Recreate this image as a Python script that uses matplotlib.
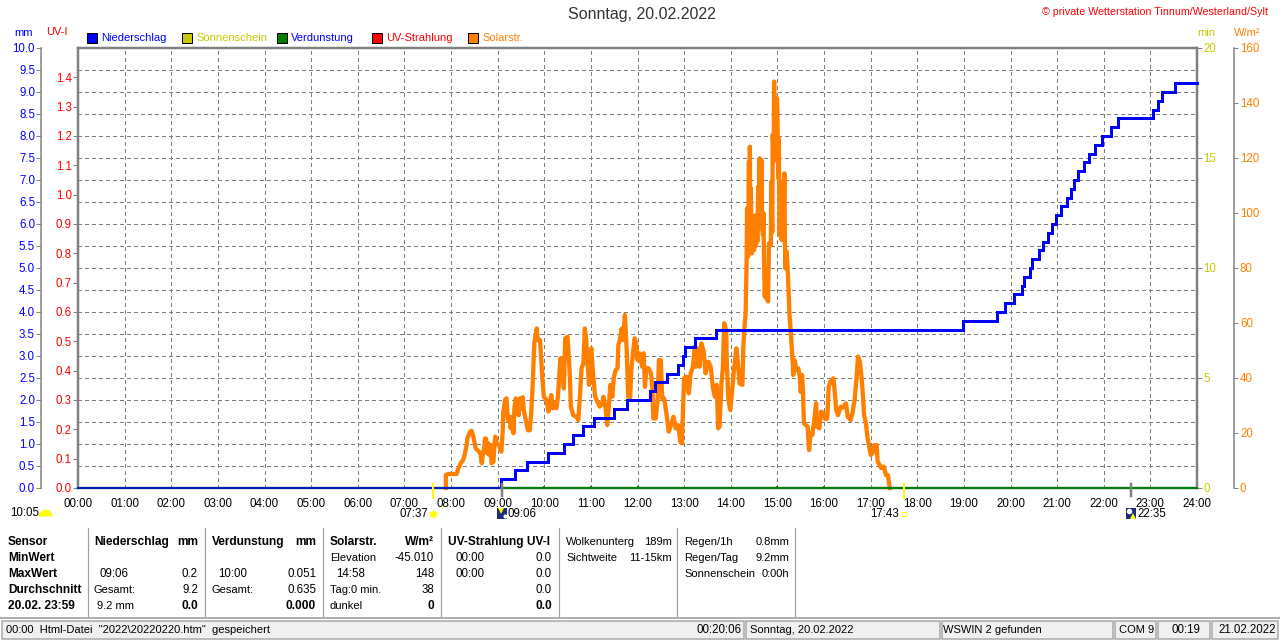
import matplotlib
matplotlib.use('Agg')
import matplotlib.pyplot as plt
from matplotlib.lines import Line2D
from matplotlib.patches import Rectangle

plt.rcParams['font.family'] = ['Liberation Sans', 'DejaVu Sans']
plt.rcParams['font.size'] = 8.0

# Regen: Zeitpunkt (h) und Tagessumme (mm)
rain_h = [0, 9.08, 9.38, 9.64, 10.09, 10.43, 10.62, 10.84, 11.07, 11.5, 11.78, 12.27, 12.37, 12.63, 12.87,
          12.97, 13.02, 13.23, 13.68, 18.99, 19.7, 19.89, 20.07, 20.24, 20.3, 20.41, 20.47, 20.62, 20.69,
          20.81, 20.9, 20.98, 21.09, 21.22, 21.29, 21.36, 21.45, 21.57, 21.68, 21.82, 21.97, 22.15, 22.31,
          23.05, 23.16, 23.26, 23.52, 24]
rain_mm = [0, 0.2, 0.4, 0.6, 0.8, 1.0, 1.2, 1.4, 1.6, 1.8, 2.0, 2.2, 2.4, 2.6, 2.8,
           3.0, 3.2, 3.4, 3.6, 3.8, 4.0, 4.2, 4.4, 4.6, 4.8, 5.0, 5.2, 5.4, 5.6,
           5.8, 6.0, 6.2, 6.4, 6.6, 6.8, 7.0, 7.2, 7.4, 7.6, 7.8, 8.0, 8.2, 8.4,
           8.6, 8.8, 9.0, 9.2, 9.2]

# Solarstrahlung
solar_h = [7.89, 7.89, 7.94, 8.12, 8.16, 8.21, 8.26, 8.30, 8.34, 8.35, 8.41, 8.44, 8.48, 8.51, 8.53, 8.58,
           8.63, 8.66, 8.68, 8.71, 8.73, 8.75, 8.78, 8.80, 8.82, 8.85, 8.87, 8.91, 8.93, 8.95, 8.98, 9.03,
           9.08, 9.11, 9.12, 9.16, 9.19, 9.22, 9.25, 9.28, 9.31, 9.34, 9.36, 9.39, 9.42, 9.45, 9.48, 9.51,
           9.54, 9.56, 9.61, 9.65, 9.69, 9.72, 9.75, 9.78, 9.79, 9.84, 9.86, 9.91, 9.94, 9.96, 9.99, 10.05,
           10.09, 10.12, 10.15, 10.18, 10.21, 10.26, 10.29, 10.34, 10.35, 10.37, 10.39, 10.42, 10.45,
           10.50, 10.55, 10.57, 10.62, 10.69, 10.73, 10.76, 10.78, 10.80, 10.84, 10.87, 10.90, 10.93, 10.96,
           10.99, 11.01, 11.04, 11.09, 11.14, 11.19, 11.24, 11.27, 11.32, 11.35, 11.39, 11.42, 11.46, 11.49,
           11.53, 11.57, 11.59, 11.62, 11.66, 11.69, 11.73, 11.77, 11.80, 11.84, 11.87, 11.91, 11.94, 11.97,
           12.0, 12.04, 12.10, 12.13, 12.16, 12.19, 12.24, 12.29, 12.32, 12.34, 12.39, 12.43, 12.46, 12.50,
           12.53, 12.57, 12.62, 12.67, 12.72, 12.77, 12.82, 12.87, 12.92, 12.95, 12.97, 13.0, 13.05, 13.10,
           13.14, 13.19, 13.23,
           13.25, 13.29, 13.33, 13.37, 13.42, 13.46, 13.52, 13.57, 13.62, 13.66, 13.70, 13.73, 13.76, 13.80,
           13.83, 13.86, 13.90, 13.92, 13.95, 13.99, 14.03, 14.07, 14.12, 14.16, 14.19, 14.25, 14.27, 14.30,
           14.32, 14.34, 14.35, 14.37, 14.39, 14.40, 14.41, 14.42, 14.43, 14.45, 14.46, 14.47, 14.49, 14.50,
           14.52, 14.53, 14.55, 14.57, 14.59, 14.60, 14.62, 14.63, 14.65, 14.66, 14.67, 14.69, 14.70, 14.72,
           14.73, 14.75, 14.77, 14.78, 14.80, 14.82, 14.86, 14.87, 14.89, 14.90, 14.92, 14.93, 14.95, 14.96,
           14.97, 14.99, 15.0, 15.02, 15.03, 15.05, 15.06, 15.09, 15.10, 15.12, 15.13, 15.15, 15.16, 15.17,
           15.20, 15.23, 15.26,
           15.29, 15.30, 15.33, 15.34, 15.37, 15.41, 15.45, 15.48, 15.50, 15.53, 15.55, 15.57, 15.61, 15.65,
           15.68, 15.71, 15.75, 15.80, 15.83, 15.85, 15.90, 15.94, 15.98, 16.03, 16.07, 16.10, 16.14, 16.20,
           16.23, 16.26, 16.30, 16.36, 16.41, 16.47, 16.51, 16.57, 16.61, 16.66, 16.70, 16.73, 16.77, 16.80,
           16.83, 16.86, 16.90, 16.93, 16.97, 17.00, 17.04, 17.08, 17.13, 17.15, 17.23, 17.28, 17.33, 17.37,
           17.41]
solar_w = [0, 4.7, 5.1, 5.1, 7.2, 9, 10.2, 12.6, 16.2, 18, 20.5, 20.8, 18.7, 16.2, 14.4, 13.6,
           12.6, 9, 12, 14.4, 18, 18, 12.6, 16.2, 12, 15.6, 9, 9.6, 15.6, 18.7, 16.2, 15.6,
           13.2, 21, 27.2, 32, 32.6, 24.7, 25.9, 21.7, 25.9, 19.9, 29, 32.6, 29, 26.5, 32.6, 29,
           33, 28.4, 24.1, 21, 21, 27.2, 36.8, 50.2, 53.2, 58, 53.8, 53.8, 45.3, 39.9, 33.2, 32,
           27.8, 30.8, 33.8, 29, 30.8, 29, 32.6, 45.3, 47.2, 39.3, 45.3, 36.2, 54.4,
           55, 40.5, 29.6, 26.5, 25.9, 24.7, 32, 38, 43.5, 45.3, 58, 53.8, 45.3, 37.5,
           49, 50.8, 42.9, 33.2, 31.4, 29.6, 30.8, 33.2, 28.4, 22.9, 30.8, 37.5, 33.2, 39.9,
           42.9, 43.5, 52, 53.8, 58, 53.8, 62.9, 49.6, 33.2, 32.6, 43.5, 50.2, 54.4, 52.6,
           46.5, 49, 44.1, 49, 36.8, 43.5, 43.5, 41.7, 35.6, 25.3, 25.3, 32, 46.5, 46.5,
           32.6, 32.6, 27.2, 20.5, 22.9, 25.9, 21.7, 22.9, 16.8, 16.2, 25.9, 39.9, 40.5, 34.4,
           41.7, 44.1, 51.4,
           44.1, 50.8, 44.1, 52.6, 49.6, 41.7, 45.9, 44.1, 36.2, 33.2, 37.5, 21.7, 22.3, 38,
           43.5, 59.9, 57.5, 43.5, 32, 28.4, 35.6, 42.9, 50.8, 44.1, 38, 37.5, 51.4, 59.9,
           63.5, 82.3, 101.7, 84, 118.7, 88, 124.1, 91, 109, 85.3, 95.6, 86.5, 93, 86.5,
           99, 88, 99.3, 89.6, 109.6, 94.4, 119.9, 101.7, 94.4, 119.3, 101.1, 92, 100, 77.5,
           69.6, 79.9, 68.7, 78.7, 67.8, 89, 88.4, 111.4, 93, 128.4, 118.7, 147.8, 127.2, 140.5,
           127.2, 141.7, 136.9, 112.6, 127.2, 92, 104.7, 90.2, 104, 111.4, 90.8, 114.4, 93, 79.9,
           85.9, 76.2, 62.9,
           56.2, 53.2, 45.3, 41.1, 46.5, 42.9, 43.5, 40.5, 35, 41.1, 34.4, 23.5, 22.9, 22.3,
           13.8, 19.9, 19.3, 25.9, 30.8, 22.3, 21.7, 27.8, 27.2, 25, 25.3, 36.8, 38.7, 39.9,
           35, 28.4, 26.5, 29.6, 29.3, 30.8, 25.9, 24.7, 27.2, 32.6, 40.5, 47.8, 45.9, 41.1,
           35, 26.5, 23.5, 18.7, 15, 12, 12.6, 15.6, 15.6, 9.6, 7.2, 7.8, 4.7, 4.7,
           0]

# Verdunstung (stuendlich, mm) und UV
evap_h = [5, 6, 7, 8, 9, 10, 11, 12, 13, 14, 15, 16, 17, 18, 19, 20, 21, 22, 23]
evap_mm = [0.02, 0.02, 0.02, 0.02, 0.03, 0.051, 0.04, 0.04, 0.03, 0.02, 0.04, 0.04, 0.03, 0.02, 0.02, 0.02, 0.02, 0.02, 0.02]
uv_h = [0, 24]
uv_i = [0, 0]

hour_labels = ['%02d:00' % h for h in range(25)]
mm_ticks = [0.0, 0.5, 1.0, 1.5, 2.0, 2.5, 3.0, 3.5, 4.0, 4.5, 5.0, 5.5, 6.0, 6.5, 7.0, 7.5, 8.0, 8.5, 9.0, 9.5, 10.0]
uv_ticks = [0.0, 0.1, 0.2, 0.3, 0.4, 0.5, 0.6, 0.7, 0.8, 0.9, 1.0, 1.1, 1.2, 1.3, 1.4]
min_ticks = [0, 5, 10, 15, 20]
wm2_ticks = [0, 20, 40, 60, 80, 100, 120, 140, 160]

legend_names = ['Niederschlag', 'Sonnenschein', 'Verdunstung', 'UV-Strahlung', 'Solarstr.']
legend_boxes = ['#0000ff', '#c8c800', '#008000', '#ff0000', '#ff8000']
legend_text = ['#0000ff', '#c8c800', '#0000ff', '#ff0000', '#ff8000']
legend_x = [87, 182, 277, 372, 468]

sunrise, sunset, moonrise, moonset = 7.62, 17.72, 9.1, 22.58

BLUE, YEL, RED, ORA, GRAY = '#0000ff', '#c8c800', '#ff0000', '#ff8000', '#808080'
W, H = 1280, 641
PT = 0.72  # 1 px in pt
NUM = 8.3  # Zahlen etwas groesser


def fx(x):
    return x / W


def fy(y):
    return 1 - y / H


def txt(x, y, s, color='black', ha='left', bold=False, size=8.0):
    fig.text(fx(x), fy(y), s, color=color, ha=ha, va='center', size=8.6 if bold else size,
             weight='bold' if bold else 'normal')


def sym(x, y, marker, color, ms, **kw):
    fig.add_artist(Line2D([fx(x)], [fy(y)], marker=marker, color=color, ms=ms, mew=0,
                          ls='none', transform=fig.transFigure, **kw))


fig = plt.figure(figsize=(W / 100, H / 100), dpi=100)
ax = fig.add_axes([fx(78), fy(488), 1119 / W, 440 / H])
ax.set_xlim(0, 24)
ax.set_ylim(0, 10)
ax.set_xticks(range(25))
ax.set_xticklabels(hour_labels)
ax.set_yticks(mm_ticks)
ax.set_yticklabels(['%.1f' % v for v in mm_ticks])
ax.tick_params(axis='x', length=0, pad=10 * PT, labelsize=NUM)
ax.tick_params(axis='y', colors=BLUE, length=5 * PT, width=1 * PT, pad=1 * PT, labelsize=NUM)
ax.tick_params(axis='y', color=GRAY)
ax.grid(True, color=GRAY, lw=1 * PT, ls=(0, (4, 4)), antialiased=False)
ax.set_axisbelow(True)
for s in ax.spines.values():
    s.set_visible(False)
ax.spines['left'].set_visible(True)
ax.spines['left'].set_position(('outward', 37 * PT))
ax.spines['left'].set_color(GRAY)
ax.spines['left'].set_linewidth(1.5 * PT)

# Solarstrahlung
ax_w = ax.twinx()
ax_w.set_ylim(0, 160)
ax_w.set_yticks(wm2_ticks)
ax_w.tick_params(axis='y', labelcolor=ORA, color=GRAY, length=4 * PT, width=1 * PT, pad=2 * PT, labelsize=NUM)
for s in ax_w.spines.values():
    s.set_visible(False)
ax_w.spines['right'].set_visible(True)
ax_w.spines['right'].set_position(('outward', 37 * PT))
ax_w.spines['right'].set_color(GRAY)
ax_w.spines['right'].set_linewidth(1.5 * PT)
ax_w.plot(solar_h, solar_w, color=ORA, lw=4.3 * PT, solid_joinstyle='round', clip_on=False)

# UV und Sonnenschein-Skala, Rahmen
ax_uv = ax.twinx()
ax_uv.set_ylim(0, 1.5)
ax_uv.yaxis.tick_left()
ax_uv.set_yticks(uv_ticks)
ax_uv.set_yticklabels(['%.1f' % v for v in uv_ticks])
ax_uv.tick_params(axis='y', labelcolor=RED, color=GRAY, length=5 * PT, width=1 * PT, pad=1 * PT, labelsize=NUM)
ax_uv.plot(uv_h, uv_i, color=RED, lw=1 * PT)
for s in ax_uv.spines.values():
    s.set_color(GRAY)
    s.set_linewidth(2.5 * PT)

ax_min = ax.twinx()
ax_min.set_ylim(0, 20)
ax_min.set_yticks(min_ticks)
ax_min.tick_params(axis='y', labelcolor=YEL, color=GRAY, length=5 * PT, width=1 * PT, pad=1 * PT, labelsize=NUM)
for s in ax_min.spines.values():
    s.set_visible(False)

# Regen + Verdunstung ganz oben
ax_r = ax.twinx()
ax_r.set_ylim(0, 10)
ax_r.axis('off')
ax_r.plot([0, 24], [0, 0], color='#008000', lw=2 * PT, clip_on=False)
ax_r.vlines(evap_h, 0, evap_mm, color='#008000', lw=2 * PT)
ax_r.plot(rain_h[:2], [rain_mm[0], rain_mm[0]], color=BLUE, lw=1.5 * PT, clip_on=False)
ax_r.vlines(rain_h[1], rain_mm[0], rain_mm[1], color=BLUE, lw=3 * PT)
ax_r.step(rain_h[1:], rain_mm[1:], where='post', color=BLUE, lw=3 * PT, solid_joinstyle='miter', clip_on=False)

# Auf-/Untergang Marken
trans = ax_r.get_xaxis_transform()
for t in [sunrise, sunset]:
    ax_r.plot([t, t], [0.009, -0.023], color='#ffff00', lw=2 * PT, transform=trans, clip_on=False)
for t in [moonrise, moonset]:
    ax_r.plot([t, t], [0.009, -0.018], color=GRAY, lw=2.5 * PT, transform=trans, clip_on=False)

txt(642, 15, 'Sonntag, 20.02.2022', color='#333333', ha='center', size=11.5)
txt(1268, 12, '© private Wetterstation Tinnum/Westerland/Sylt', color=RED, ha='right', size=7.7)
txt(14, 33, 'mm', BLUE)
txt(46, 32, 'UV-I', RED)
txt(1197, 33, 'min', YEL)
txt(1234, 33, 'W/m²', ORA)

for name, box, col, x in zip(legend_names, legend_boxes, legend_text, legend_x):
    fig.add_artist(Rectangle((fx(x), fy(43)), 10 / W, 10 / H, facecolor=box, edgecolor='black', lw=1 * PT,
                             transform=fig.transFigure))
    txt(x + 14, 38, name, col)

# Ereignisse unter der Achse
txt(10, 513, '10:05', size=NUM)
sym(45, 516, 'o', '#ffff00', 10, fillstyle='top', markerfacecoloralt='none')
txt(400, 514, '07:37', size=NUM)
sym(433, 514, '*', '#ffffa0', 9)
sym(433, 514, 'o', '#ffff00', 5)
txt(870, 514, '17:43', size=NUM)
fig.add_artist(Rectangle((fx(902), fy(516)), 4 / W, 4 / H, facecolor='white', edgecolor='#ffff00', lw=1 * PT,
                         transform=fig.transFigure))
fig.add_artist(Rectangle((fx(497), fy(519)), 10 / W, 11 / H, facecolor='#1c2a80', edgecolor='none',
                         transform=fig.transFigure))
sym(501, 511, 'v', '#ffff00', 5)
sym(505, 516, 'o', 'white', 3)
txt(508, 514, '09:06', size=NUM)
fig.add_artist(Rectangle((fx(1126), fy(519)), 10 / W, 11 / H, facecolor='#1c2a80', edgecolor='none',
                         transform=fig.transFigure))
sym(1129, 511, 'o', 'white', 4)
sym(1133, 516, '^', '#ffff00', 5)
txt(1137, 514, '22:35', size=NUM)

# Tabelle
for x in [88, 205, 323, 441, 559, 677, 795]:
    fig.add_artist(Line2D([fx(x), fx(x)], [fy(528), fy(617)], color='#a0a0a0', lw=1.2 * PT,
                          transform=fig.transFigure))
rows = [542, 558, 574, 590, 606]
for y, s in zip(rows, ['Sensor', 'MinWert', 'MaxWert', 'Durchschnitt', '20.02. 23:59']):
    txt(8, y, s, bold=True)

txt(94, rows[0], 'Niederschlag', bold=True)
txt(198, rows[0], 'mm', ha='right', bold=True)
txt(100, rows[2], '09:06', size=NUM)
txt(198, rows[2], '0.2', ha='right', size=NUM)
txt(94, rows[3], 'Gesamt:')
txt(198, rows[3], '9.2', ha='right', size=NUM)
txt(97, rows[4], '9.2 mm')
txt(198, rows[4], '0.0', ha='right', bold=True)

txt(212, rows[0], 'Verdunstung', bold=True)
txt(316, rows[0], 'mm', ha='right', bold=True)
txt(218, rows[2], '10:00', size=NUM)
txt(316, rows[2], '0.051', ha='right', size=NUM)
txt(212, rows[3], 'Gesamt:')
txt(316, rows[3], '0.635', ha='right', size=NUM)
txt(316, rows[4], '0.000', ha='right', bold=True)

txt(330, rows[0], 'Solarstr.', bold=True)
txt(434, rows[0], 'W/m²', ha='right', bold=True)
txt(330, rows[1], 'Elevation')
txt(434, rows[1], '-45.010', ha='right', size=NUM)
txt(336, rows[2], '14:58', size=NUM)
txt(434, rows[2], '148', ha='right', size=NUM)
txt(330, rows[3], 'Tag:0 min.')
txt(434, rows[3], '38', ha='right', size=NUM)
txt(330, rows[4], 'dunkel')
txt(434, rows[4], '0', ha='right', bold=True)

txt(448, rows[0], 'UV-Strahlung UV-I', bold=True)
txt(455, rows[1], '00:00', size=NUM)
txt(552, rows[1], '0.0', ha='right', size=NUM)
txt(455, rows[2], '00:00', size=NUM)
txt(552, rows[2], '0.0', ha='right', size=NUM)
txt(552, rows[3], '0.0', ha='right', size=NUM)
txt(552, rows[4], '0.0', ha='right', bold=True)

txt(566, rows[0], 'Wolkenunterg')
txt(672, rows[0], '189m', ha='right')
txt(566, rows[1], 'Sichtweite')
txt(672, rows[1], '11-15km', ha='right')
txt(684, rows[0], 'Regen/1h')
txt(789, rows[0], '0.8mm', ha='right')
txt(684, rows[1], 'Regen/Tag')
txt(789, rows[1], '9.2mm', ha='right')
txt(684, rows[2], 'Sonnenschein')
txt(789, rows[2], '0:00h', ha='right')

# Statusleiste
fig.add_artist(Line2D([0, 1], [fy(618), fy(618)], color='#b0b0b0', lw=2 * PT, transform=fig.transFigure))
for x0, x1 in [(2, 744), (746, 940), (942, 1113), (1115, 1156), (1158, 1210), (1212, 1278)]:
    fig.add_artist(Rectangle((fx(x0), fy(639)), (x1 - x0) / W, 18 / H, facecolor='#f0f0f0', edgecolor='#a8a8a8',
                             lw=1.5 * PT, transform=fig.transFigure))
txt(6, 630, '00:00  Html-Datei  "2022\\20220220.htm"  gespeichert')
txt(742, 630, '00:20:06', ha='right', size=NUM)
txt(750, 630, 'Sonntag, 20.02.2022')
txt(943, 630, 'WSWIN 2 gefunden')
txt(1119, 630, 'COM 9')
txt(1171, 630, '00:19', size=NUM)
txt(1218, 630, '21.02.2022', size=NUM)

fig.savefig('out.png', dpi=100)
